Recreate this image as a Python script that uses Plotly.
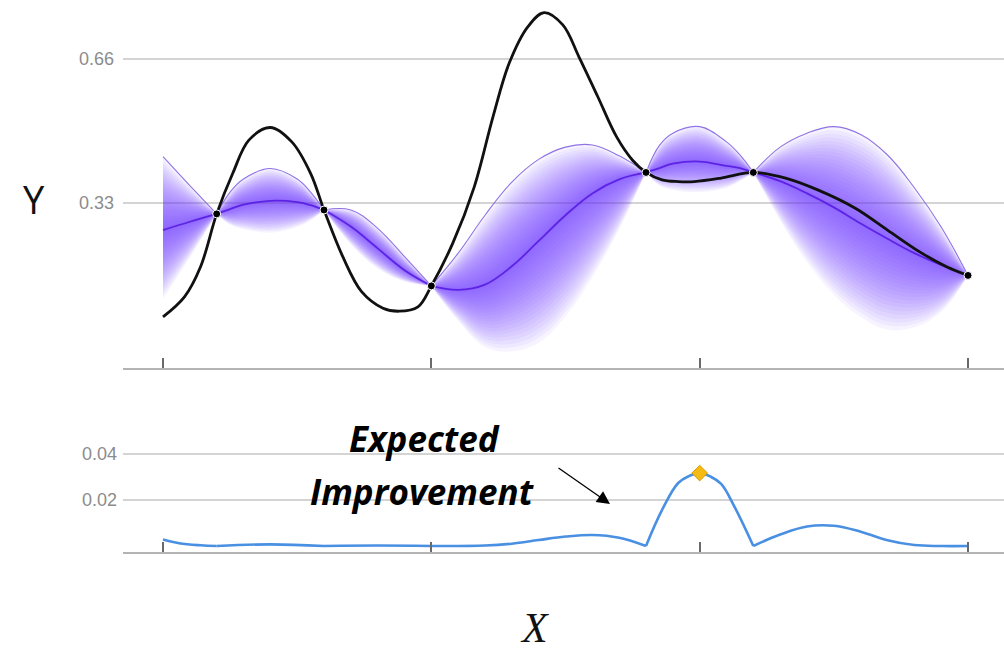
import plotly.graph_objects as go

# ---- objective function (true curve) ----
true_x = [0, 0.4, 0.7, 1, 1.3, 1.6, 2.0, 2.4, 2.75, 3, 3.35, 3.7, 4.1, 4.4, 4.75, 5,
          5.4, 5.8, 6.15, 6.45, 6.8, 7.1, 7.45, 7.75, 8.1, 8.45, 8.75, 9, 9.3, 9.6,
          9.9, 10.4, 11, 11.6, 12.2, 12.9, 13.5, 14.1, 14.6, 15]
true_y = [0.069, 0.115, 0.184, 0.305, 0.398, 0.474, 0.503, 0.470, 0.398, 0.314, 0.207,
          0.127, 0.089, 0.082, 0.092, 0.140, 0.238, 0.367, 0.528, 0.650, 0.734, 0.766,
          0.738, 0.665, 0.574, 0.482, 0.428, 0.400, 0.383, 0.379, 0.379, 0.387, 0.400,
          0.387, 0.360, 0.318, 0.268, 0.218, 0.184, 0.164]

# ---- observations ----
obs_x = [1, 3, 5, 9, 11, 15]
obs_y = [0.305, 0.314, 0.140, 0.400, 0.400, 0.164]

# ---- Gaussian-process posterior: mean and credible band ----
gp_x = [0, 0.5, 1, 1.25, 1.5, 2, 2.5, 2.75, 3, 3.5, 4, 4.5, 5, 5.5, 6, 6.5, 7, 7.5, 8,
        8.5, 9, 9.25, 9.5, 10, 10.5, 10.75, 11, 11.5, 12, 12.5, 13, 13.5, 14, 14.5, 15]
gp_mean = [0.268, 0.287, 0.305, 0.316, 0.326, 0.335, 0.332, 0.325, 0.314, 0.276, 0.226,
           0.176, 0.140, 0.131, 0.143, 0.185, 0.243, 0.302, 0.352, 0.384, 0.400, 0.410,
           0.420, 0.425, 0.415, 0.410, 0.400, 0.380, 0.352, 0.320, 0.283, 0.248, 0.215,
           0.188, 0.164]
gp_upper = [0.436, 0.370, 0.305, 0.355, 0.385, 0.409, 0.385, 0.355, 0.314, 0.314, 0.272,
            0.207, 0.140, 0.215, 0.302, 0.378, 0.430, 0.458, 0.463, 0.438, 0.400, 0.462,
            0.490, 0.505, 0.470, 0.440, 0.400, 0.458, 0.490, 0.505, 0.487, 0.440, 0.365,
            0.275, 0.164]
gp_lower = [0.110, 0.205, 0.305, 0.280, 0.270, 0.262, 0.275, 0.290, 0.314, 0.235, 0.180,
            0.150, 0.140, 0.060, 0.000, -0.010, 0.010, 0.070, 0.160, 0.270, 0.400, 0.370,
            0.360, 0.355, 0.365, 0.380, 0.400, 0.290, 0.195, 0.120, 0.069, 0.040, 0.045,
            0.080, 0.164]

# ---- acquisition function (expected improvement) ----
ei_x = [0, 0.3, 0.7, 1, 2, 3, 4, 5, 6, 6.5, 7, 7.5, 8, 8.5, 9, 9.3, 9.6, 9.8, 10, 10.2,
        10.4, 10.65, 11, 11.5, 12, 12.5, 13, 13.5, 14, 14.5, 15]
ei_y = [0.0028, 0.0012, 0.0003, 0.0, 0.0007, 0.0, 0.0002, 0.0, 0.0002, 0.0010, 0.0026,
        0.0041, 0.0048, 0.0036, 0.0, 0.0157, 0.0274, 0.0304, 0.0317, 0.0302, 0.0270,
        0.0170, 0.0, 0.0050, 0.0085, 0.0088, 0.0062, 0.0025, 0.0004, 0.0, 0.0]
next_x = 10
next_ei = 0.0317

x_ticks = [0, 5, 10, 15]
top_ticks = [0.33, 0.66]
top_tick_text = ["0.33", "0.66"]
bot_ticks = [0.02, 0.04]
bot_tick_text = ["0.02", "0.04"]

W, H = 1004, 653
ML = 123
PW = W - ML


def px(xp):
    return (xp - ML) / PW


def py(yp):
    return (H - yp) / H


def split_at(xs, cols, pinch):
    """Split parallel lists into pieces that start/end at the given x positions."""
    cuts = [i for i, v in enumerate(xs) if v in pinch]
    bounds = sorted(set([0] + cuts + [len(xs) - 1]))
    pieces = []
    for a, b in zip(bounds[:-1], bounds[1:]):
        pieces.append([xs[a:b + 1]] + [c[a:b + 1] for c in cols])
    return pieces


fig = go.Figure()

PURPLE = "rgba(115, 50, 255, {a})"
N_LEVELS = 22
SMOOTH = 1.1

gp_pieces = split_at(gp_x, [gp_mean, gp_upper, gp_lower], obs_x)

# graded band: nested fills around the mean
for xs, m, u, l in gp_pieces:
    for k in range(N_LEVELS, 0, -1):
        t = k / N_LEVELS
        up = [mi + t * (ui - mi) for mi, ui in zip(m, u)]
        lo = [mi - t * (mi - li) for mi, li in zip(m, l)]
        fig.add_trace(go.Scatter(x=xs, y=lo, mode="lines",
                                 line=dict(width=0, shape="spline", smoothing=SMOOTH),
                                 hoverinfo="skip", showlegend=False,
                                 xaxis="x", yaxis="y"))
        fig.add_trace(go.Scatter(x=xs, y=up, mode="lines", fill="tonexty",
                                 fillcolor=PURPLE.format(a=0.056),
                                 line=dict(width=0, shape="spline", smoothing=SMOOTH),
                                 hoverinfo="skip", showlegend=False,
                                 xaxis="x", yaxis="y"))

# upper bound edge and posterior mean
for xs, m, u, l in gp_pieces:
    fig.add_trace(go.Scatter(x=xs, y=u, mode="lines",
                             line=dict(color="rgba(125, 90, 225, 0.85)", width=1.1,
                                       shape="spline", smoothing=SMOOTH),
                             hoverinfo="skip", showlegend=False, xaxis="x", yaxis="y"))
    fig.add_trace(go.Scatter(x=xs, y=m, mode="lines",
                             line=dict(color="rgba(88, 28, 225, 0.9)", width=1.8,
                                       shape="spline", smoothing=SMOOTH),
                             hoverinfo="skip", showlegend=False, xaxis="x", yaxis="y"))

# true objective
fig.add_trace(go.Scatter(x=true_x, y=true_y, mode="lines",
                         line=dict(color="#111111", width=2.8, shape="spline", smoothing=1.0),
                         hoverinfo="skip", showlegend=False, xaxis="x", yaxis="y"))

# observed samples
fig.add_trace(go.Scatter(x=obs_x, y=obs_y, mode="markers",
                         marker=dict(color="#000000", size=8,
                                     line=dict(color="white", width=1)),
                         hoverinfo="skip", showlegend=False, xaxis="x", yaxis="y"))

# expected improvement, drawn piecewise so the zeros at samples stay sharp
for xs, e in split_at(ei_x, [ei_y], obs_x):
    fig.add_trace(go.Scatter(x=xs, y=e, mode="lines",
                             line=dict(color="#4a90e2", width=2.6, shape="spline",
                                       smoothing=1.1),
                             hoverinfo="skip", showlegend=False, xaxis="x2", yaxis="y2"))

fig.add_trace(go.Scatter(x=[next_x], y=[next_ei], mode="markers",
                         marker=dict(symbol="diamond", size=12, color="#f4bb12",
                                     line=dict(color="#dc9a00", width=1)),
                         hoverinfo="skip", showlegend=False, xaxis="x2", yaxis="y2"))

x_range = [-(163 - ML) / 53.667, 15 + (W - 968) / 53.667]

axis_common = dict(range=x_range, showgrid=False, zeroline=False, showline=True,
                   linecolor="#b4b4b4", linewidth=2, ticks="inside", ticklen=10,
                   tickwidth=1.5, tickcolor="#6a6a6a", tickvals=x_ticks,
                   showticklabels=False)

fig.update_layout(
    width=W, height=H,
    margin=dict(l=ML, r=0, t=0, b=0),
    paper_bgcolor="white", plot_bgcolor="white",
    font=dict(family="Liberation Sans, Arial, sans-serif"),
    xaxis=dict(domain=[0, 1], anchor="y", **axis_common),
    xaxis2=dict(domain=[0, 1], anchor="y2", **axis_common),
    yaxis=dict(domain=[py(368), 1], range=[(347 - 368) / 436.4, 347 / 436.4],
               tickvals=top_ticks, ticktext=top_tick_text, showgrid=True,
               gridcolor="#d4d4d4", gridwidth=2, zeroline=False, showline=False,
               ticks="", tickfont=dict(size=18, color="#8c8c8c"),
               ticklabelstandoff=8),
    yaxis2=dict(domain=[py(552), py(420)], range=[(546 - 552) / 2300, (546 - 420) / 2300],
                tickvals=bot_ticks, ticktext=bot_tick_text, showgrid=True,
                gridcolor="#d4d4d4", gridwidth=2, zeroline=False, showline=False,
                ticks="", tickfont=dict(size=18, color="#8c8c8c"),
                ticklabelstandoff=5),
    annotations=[
        dict(text="Y", x=px(34), y=py(199), xref="paper", yref="paper",
             showarrow=False, xanchor="center", yanchor="middle",
             font=dict(family="Open Sans", size=38, color="#111111")),
        dict(text="<i>X</i>", x=px(535), y=0, xref="paper", yref="paper",
             showarrow=False, xanchor="center", yanchor="bottom",
             font=dict(family="Liberation Serif", size=42, color="#111111")),
        dict(text="<b><i>Expected</i></b>", x=px(424), y=py(439), xref="paper",
             yref="paper", showarrow=False, xanchor="center", yanchor="middle",
             font=dict(family="Open Sans", size=35, color="#000000")),
        dict(text="<b><i>Improvement</i></b>", x=px(422), y=py(491), xref="paper",
             yref="paper", showarrow=False, xanchor="center", yanchor="middle",
             font=dict(family="Open Sans", size=35, color="#000000")),
        dict(text="", x=px(610), y=py(504), xref="paper", yref="paper",
             showarrow=True, ax=-53, ay=-37, axref="pixel", ayref="pixel",
             arrowhead=2, arrowsize=2.0, arrowwidth=1.3, arrowcolor="#000000"),
    ],
)

fig.write_html("out.html")
